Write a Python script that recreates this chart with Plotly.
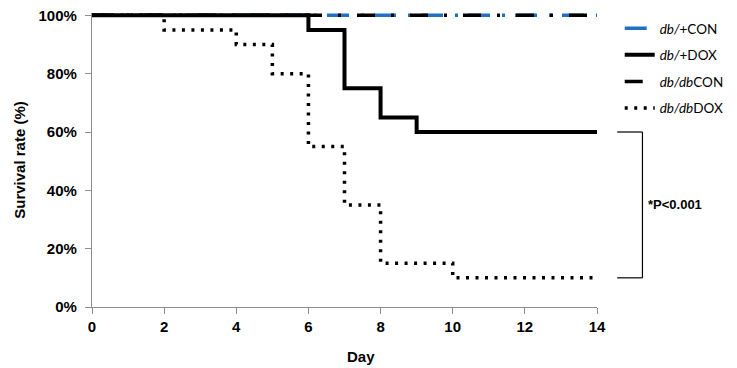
import plotly.graph_objects as go

days_con = [0, 14]
db_plus_con = [1.0, 1.0]
db_db_con = [1.0, 1.0]

days_plus_dox = [0, 6, 7, 8, 9, 14]
db_plus_dox = [1.0, 0.95, 0.75, 0.65, 0.60, 0.60]

days_db_dox = [0, 2, 4, 5, 6, 7, 8, 10, 14]
db_db_dox = [1.0, 0.95, 0.90, 0.80, 0.55, 0.35, 0.15, 0.10, 0.10]

x_ticks = [0, 2, 4, 6, 8, 10, 12, 14]
y_ticks = [0, 0.2, 0.4, 0.6, 0.8, 1.0]
p_label = "*P<0.001"

fig = go.Figure()
fig.add_trace(go.Scatter(x=days_con, y=db_plus_con, mode="lines", line_shape="hv",
                         name="<i>db/</i>+CON", legendgroup="a",
                         line=dict(color="#1F6FC5", width=3.5, dash="22px,12px,3px,10px")))
fig.add_trace(go.Scatter(x=days_plus_dox, y=db_plus_dox, mode="lines", line_shape="hv",
                         name="<i>db/</i>+DOX", legendgroup="b",
                         line=dict(color="black", width=4)))
fig.add_trace(go.Scatter(x=days_con, y=db_db_con, mode="lines", line_shape="hv",
                         name="<i>db/db</i>CON", legendgroup="c",
                         line=dict(color="black", width=3.5, dash="18px,16px,3px,16px")))
fig.add_trace(go.Scatter(x=days_db_dox, y=db_db_dox, mode="lines", line_shape="hv",
                         name="<i>db/db</i>DOX", legendgroup="d",
                         line=dict(color="black", width=3.5, dash="3px,6.5px")))

# significance bracket between final values of the two DOX groups
y_hi = db_plus_dox[-1]
y_lo = db_db_dox[-1]
bx0, bx1 = 1.04, 1.09
for yv in (y_hi, y_lo):
    fig.add_shape(type="line", xref="paper", yref="y", x0=bx0, x1=bx1, y0=yv, y1=yv,
                  line=dict(color="black", width=1.2))
fig.add_shape(type="line", xref="paper", yref="y", x0=bx1, x1=bx1, y0=y_lo, y1=y_hi,
              line=dict(color="black", width=1.2))
fig.add_annotation(xref="paper", yref="y", x=bx1 + 0.008, y=(y_hi + y_lo) / 2,
                   text="<b>" + p_label + "</b>", showarrow=False, xanchor="left",
                   font=dict(family="Liberation Sans", size=13, color="black"))

# axis titles
title_font = dict(family="Liberation Sans", size=15, color="black")
fig.add_annotation(xref="paper", yref="paper", x=-0.145, y=0.5, text="<b>Survival rate (%)</b>",
                   textangle=-90, showarrow=False, xanchor="center", yanchor="middle",
                   font=title_font)
fig.add_annotation(xref="paper", yref="paper", x=0.533, y=-0.169, text="<b>Day</b>",
                   showarrow=False, xanchor="center", yanchor="middle", font=title_font)

axis_font = dict(family="Liberation Sans", size=15, color="black")
fig.update_xaxes(range=[0, 14], tickvals=x_ticks, ticktext=[f"<b>{v}</b>" for v in x_ticks],
                 showgrid=False, zeroline=False, showline=True, linecolor="#8c8c8c",
                 linewidth=1.3, ticks="outside", ticklen=6, tickcolor="#8c8c8c",
                 tickfont=axis_font, automargin=False, ticklabelstandoff=0,
                 ticklabeloverflow="allow")
fig.update_yaxes(range=[0, 1.008], tickvals=y_ticks,
                 ticktext=[f"<b>{int(round(v*100))}%</b>" for v in y_ticks],
                 showgrid=False, zeroline=False, showline=True, linecolor="#8c8c8c",
                 linewidth=1.3, ticks="outside", ticklen=6, tickcolor="#8c8c8c",
                 tickfont=axis_font, automargin=False, ticklabelstandoff=5,
                 ticklabeloverflow="allow")
fig.update_layout(
    width=729, height=360,
    margin=dict(l=84, r=140, t=5, b=61, autoexpand=False),
    paper_bgcolor="white", plot_bgcolor="white",
    legend=dict(x=1.045, y=1.0, xanchor="left", yanchor="top",
                font=dict(family="Lato", size=13.5, color="black"),
                tracegroupgap=6, bgcolor="rgba(0,0,0,0)"),
)
fig.write_html("out.html")
